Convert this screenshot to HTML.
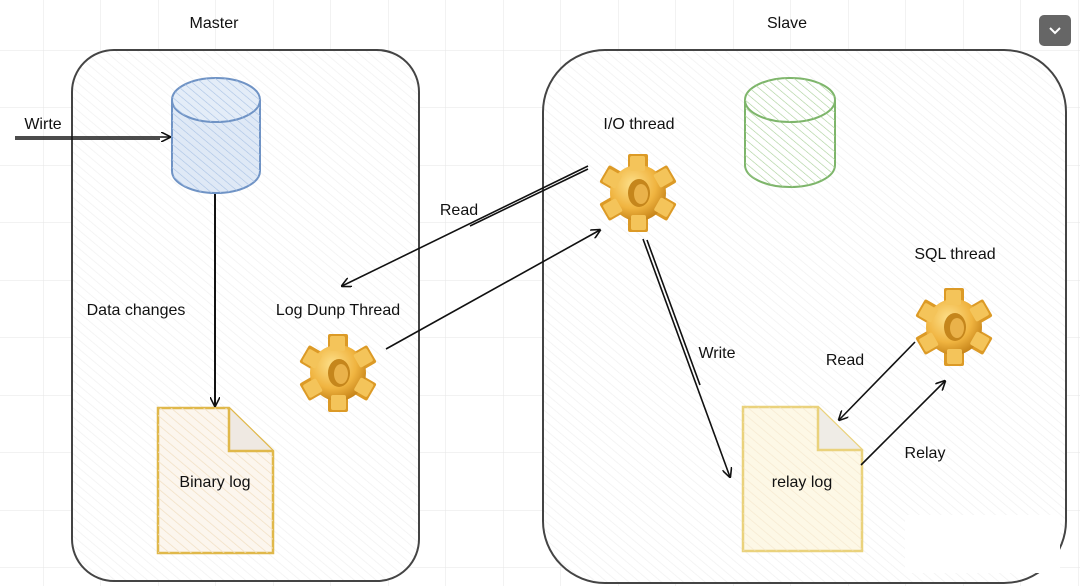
<!DOCTYPE html>
<html><head><meta charset="utf-8"><style>
html,body{margin:0;padding:0;background:#fff}
svg{display:block}
text{font-family:"Liberation Sans",sans-serif;font-size:16px;fill:#111}
</style></head><body>
<svg width="1080" height="586" viewBox="0 0 1080 586" xmlns="http://www.w3.org/2000/svg">
<defs>
<pattern id="g" width="57.5" height="57.5" patternUnits="userSpaceOnUse" x="43" y="50">
<path d="M0 0H57.5M0 0V57.5" stroke="#e6e6e6" stroke-width="1" fill="none"/>
</pattern>
<pattern id="h" width="7" height="7" patternUnits="userSpaceOnUse" patternTransform="rotate(-50)">
<line x1="0" y1="0" x2="0" y2="7" stroke="#f1f1f1" stroke-width="1.5"/>
</pattern>
<pattern id="hb" width="6" height="6" patternUnits="userSpaceOnUse" patternTransform="rotate(-50)">
<line x1="0" y1="0" x2="0" y2="6" stroke="#a9c2e4" stroke-width="1.2"/>
</pattern>
<pattern id="hg" width="6" height="6" patternUnits="userSpaceOnUse" patternTransform="rotate(-50)">
<line x1="0" y1="0" x2="0" y2="6" stroke="#a8cf98" stroke-width="1.2"/>
</pattern>
<pattern id="hy" width="7" height="7" patternUnits="userSpaceOnUse" patternTransform="rotate(-50)">
<line x1="0" y1="0" x2="0" y2="7" stroke="#f1e0c4" stroke-width="1.5"/>
</pattern>
<radialGradient id="gold" cx="40%" cy="35%" r="70%">
<stop offset="0" stop-color="#fde08a"/><stop offset="0.6" stop-color="#f0b440"/><stop offset="1" stop-color="#c27f15"/>
</radialGradient>
<g id="gear">
<g fill="#dc9a26">
<rect x="-10" y="-39" width="20" height="22" rx="2" transform="rotate(0)"/>
<rect x="-10" y="-39" width="20" height="22" rx="2" transform="rotate(60)"/>
<rect x="-10" y="-39" width="20" height="22" rx="2" transform="rotate(120)"/>
<rect x="-10" y="-39" width="20" height="22" rx="2" transform="rotate(180)"/>
<rect x="-10" y="-39" width="20" height="22" rx="2" transform="rotate(240)"/>
<rect x="-10" y="-39" width="20" height="22" rx="2" transform="rotate(300)"/>
</g>
<circle r="28" fill="url(#gold)"/>
<g fill="#f4c45a">
<rect x="-8" y="-37" width="15" height="15" rx="2" transform="rotate(0)"/>
<rect x="-8" y="-37" width="15" height="15" rx="2" transform="rotate(60)"/>
<rect x="-8" y="-37" width="15" height="15" rx="2" transform="rotate(120)"/>
<rect x="-8" y="-37" width="15" height="15" rx="2" transform="rotate(180)"/>
<rect x="-8" y="-37" width="15" height="15" rx="2" transform="rotate(240)"/>
<rect x="-8" y="-37" width="15" height="15" rx="2" transform="rotate(300)"/>
</g>
<ellipse cx="1" cy="0" rx="11" ry="14" fill="#c5861c"/>
<ellipse cx="3" cy="1" rx="7" ry="10" fill="#eab24a"/>
</g>
<marker id="ar" viewBox="0 0 10 10" refX="9" refY="5" markerWidth="10" markerHeight="10" markerUnits="userSpaceOnUse" orient="auto">
<path d="M0 0L10 5L0 10" fill="none" stroke="#111" stroke-width="1.6"/>
</marker>
</defs>
<rect width="1080" height="586" fill="#fff"/>
<rect width="1080" height="586" fill="url(#g)"/>

<rect x="72" y="50" width="347" height="531" rx="42" fill="#fff"/>
<rect x="72" y="50" width="347" height="531" rx="42" fill="url(#h)" stroke="#444" stroke-width="2"/>
<rect x="543" y="50" width="523" height="533" rx="62" fill="#fff"/>
<rect x="543" y="50" width="523" height="533" rx="62" fill="url(#h)" stroke="#444" stroke-width="2"/>
<rect x="905" y="515" width="155" height="58" fill="#fff"/>

<text x="214" y="28" text-anchor="middle">Master</text>
<text x="787" y="28" text-anchor="middle">Slave</text>
<rect x="1039" y="15" width="32" height="31" rx="5" fill="#666"/>
<path d="M1050 28l5 5 5-5" fill="none" stroke="#fff" stroke-width="2"/>

<path d="M172 100V171A44 22 0 0 0 260 171V100" fill="#dfe9f6" stroke="#6f93c5" stroke-width="2"/>
<path d="M172 100V171A44 22 0 0 0 260 171V100" fill="url(#hb)"/>
<ellipse cx="216" cy="100" rx="44" ry="22" fill="#e4edf8" stroke="#6f93c5" stroke-width="2"/>
<ellipse cx="216" cy="100" rx="44" ry="22" fill="url(#hb)"/>

<path d="M745 100V165A45 22 0 0 0 835 165V100" fill="#fff" stroke="#7db56a" stroke-width="2"/>
<path d="M745 100V165A45 22 0 0 0 835 165V100" fill="url(#hg)"/>
<ellipse cx="790" cy="100" rx="45" ry="22" fill="#fff" stroke="#7db56a" stroke-width="2"/>
<ellipse cx="790" cy="100" rx="45" ry="22" fill="url(#hg)"/>

<path d="M158 408H229L273 451V553H158Z" fill="#fcf6ee" stroke="#e0b84a" stroke-width="2.5"/>
<path d="M158 408H229L273 451V553H158Z" fill="url(#hy)"/>
<path d="M229 408V451H273" fill="#efe9e2" stroke="#e0b84a" stroke-width="2.5"/>
<text x="215" y="487" text-anchor="middle">Binary log</text>

<path d="M743 407H818L862 450V551H743Z" fill="#fdf8e6" stroke="#ead27c" stroke-width="2.5"/>
<path d="M743 407H818L862 450V551H743Z" fill="url(#hy)" opacity="0.6"/>
<path d="M818 407V450H862" fill="#efece6" stroke="#ead27c" stroke-width="2.5"/>
<text x="802" y="487" text-anchor="middle">relay log</text>

<use href="#gear" x="338" y="373"/>
<use href="#gear" x="638" y="193"/>
<use href="#gear" x="954" y="327"/>

<text x="43" y="129" text-anchor="middle">Wirte</text>
<text x="136" y="315" text-anchor="middle">Data changes</text>
<text x="338" y="315" text-anchor="middle">Log Dunp Thread</text>
<text x="459" y="215" text-anchor="middle">Read</text>
<text x="639" y="129" text-anchor="middle">I/O thread</text>
<text x="717" y="358" text-anchor="middle">Write</text>
<text x="955" y="259" text-anchor="middle">SQL thread</text>
<text x="845" y="365" text-anchor="middle">Read</text>
<text x="925" y="458" text-anchor="middle">Relay</text>

<g stroke="#111" stroke-width="1.6" fill="none">
<path d="M15 137H170" marker-end="url(#ar)"/>
<path d="M15 139H160"/>
<path d="M215 194V406" stroke-width="2" marker-end="url(#ar)"/>
<path d="M588 166L342 286" marker-end="url(#ar)"/>
<path d="M588 169L470 226"/>
<path d="M386 349L600 230" marker-end="url(#ar)"/>
<path d="M643 239L730 477" marker-end="url(#ar)"/>
<path d="M647 240L700 385"/>
<path d="M915 342L839 420" marker-end="url(#ar)"/>
<path d="M861 465L945 381" marker-end="url(#ar)"/>
</g>
</svg>
</body></html>
